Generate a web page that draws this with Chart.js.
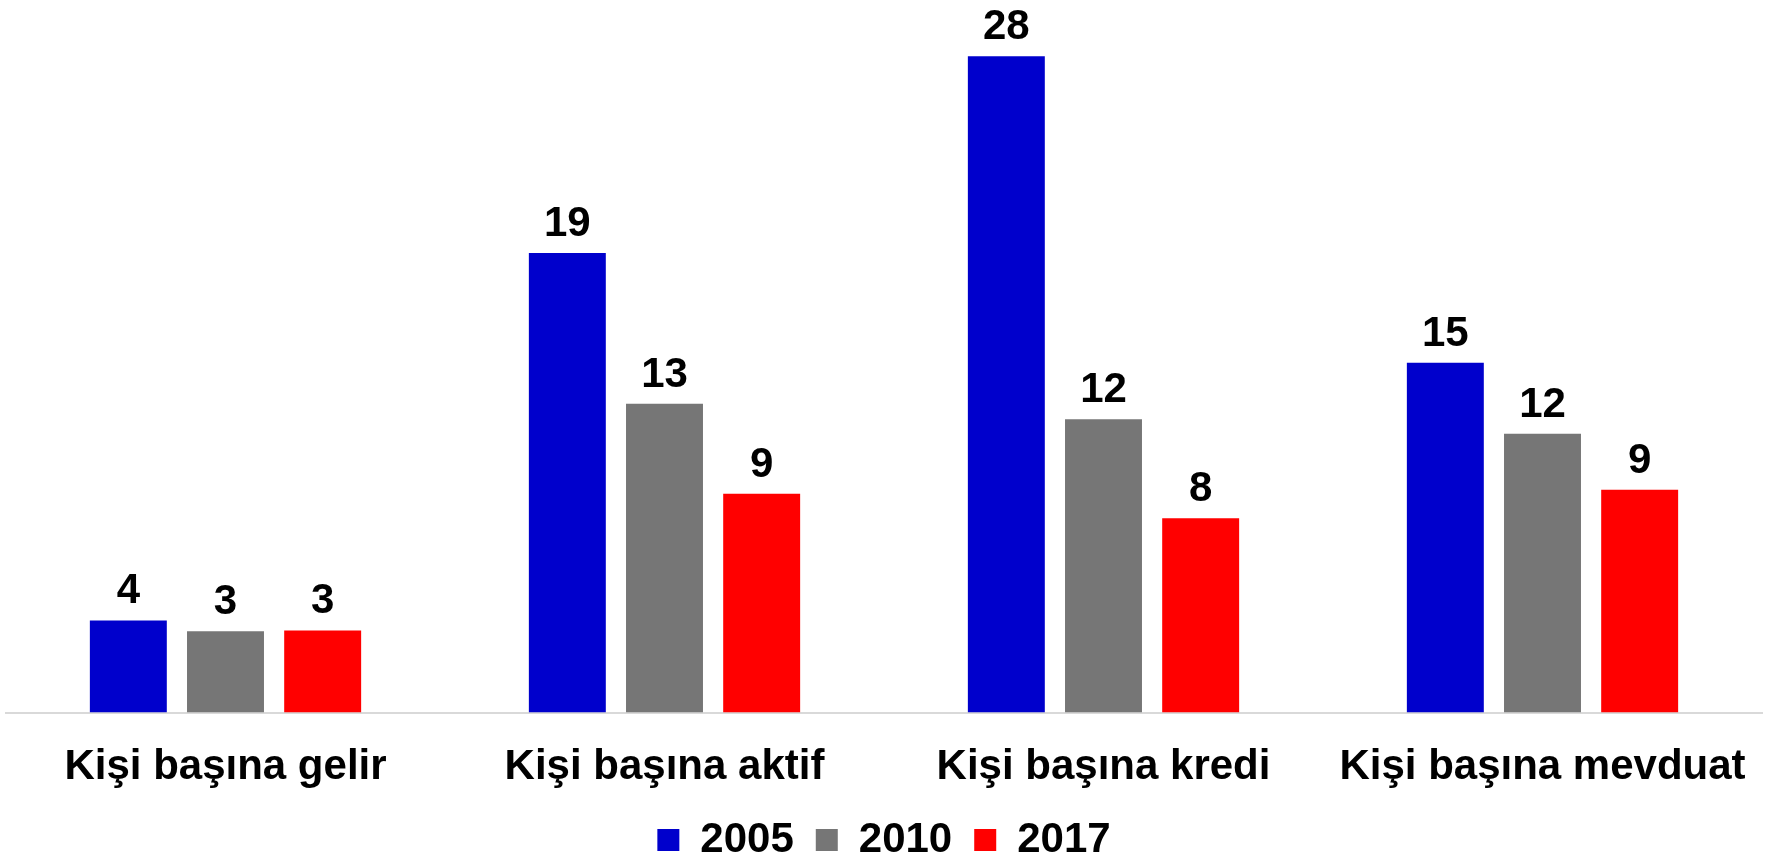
<!DOCTYPE html>
<html>
<head>
<meta charset="utf-8">
<script src="https://cdn.jsdelivr.net/npm/chart.js@4"></script>
<style>
  html, body { margin: 0; padding: 0; background: #fff; }
  #wrap { width: 1783px; height: 857px; }
</style>
</head>
<body>
<div id="wrap"><canvas id="barChart"></canvas></div>
<script>
// Kategoriler ve seriler
const categories = ['Kişi başına gelir', 'Kişi başına aktif', 'Kişi başına kredi', 'Kişi başına mevduat'];
const years = ['2005', '2010', '2017'];
const values2005 = [3.87, 19.3, 27.56, 14.69];
const values2010 = [3.42, 12.97, 12.32, 11.71];
const values2017 = [3.45, 9.19, 8.16, 9.36];
const colors = ['#0000CC', '#767676', '#FF0000'];

const fontFamily = '"Liberation Sans", Arial, sans-serif';

// Çubukların üstüne değerleri yaz
const valueLabels = {
    id: 'valueLabels',
    afterDatasetsDraw(chart) {
        const c = chart.ctx;
        c.save();
        c.font = 'bold 42px ' + fontFamily;
        c.fillStyle = '#000';
        c.textAlign = 'center';
        c.textBaseline = 'alphabetic';
        chart.data.datasets.forEach((ds, i) => {
            chart.getDatasetMeta(i).data.forEach((bar, j) => {
                c.fillText(Math.round(ds.data[j]), bar.x, bar.y - 17);
            });
        });
        c.restore();
    }
};

const ctx = document.getElementById('barChart').getContext('2d');
const chart = new Chart(ctx, {
    type: 'bar',
    data: {
        labels: categories,
        datasets: [
            { label: years[0], data: values2005, backgroundColor: colors[0] },
            { label: years[1], data: values2010, backgroundColor: colors[1] },
            { label: years[2], data: values2017, backgroundColor: colors[2] }
        ]
    },
    options: {
        responsive: true,
        maintainAspectRatio: false,
        animation: false,
        categoryPercentage: 0.664,
        barPercentage: 0.792,
        layout: { padding: { top: 22, left: 6, right: 21, bottom: -14 } },
        scales: {
            x: {
                grid: { display: false },
                border: { display: true, color: '#d9d9d9', width: 2 },
                ticks: {
                    color: '#000',
                    font: { family: fontFamily, size: 42, weight: 'bold' },
                    padding: 22
                },
                // legend biraz daha yakın dursun
                afterFit(scale) { scale.height -= 18; }
            },
            y: {
                display: false,
                min: 0,
                max: 29
            }
        },
        plugins: {
            legend: {
                position: 'bottom',
                labels: {
                    color: '#000',
                    boxWidth: 22,
                    boxHeight: 22,
                    padding: 22,
                    font: { family: fontFamily, size: 42, weight: 'bold' }
                }
            },
            tooltip: { enabled: false }
        }
    },
    plugins: [valueLabels]
});
</script>
</body>
</html>
